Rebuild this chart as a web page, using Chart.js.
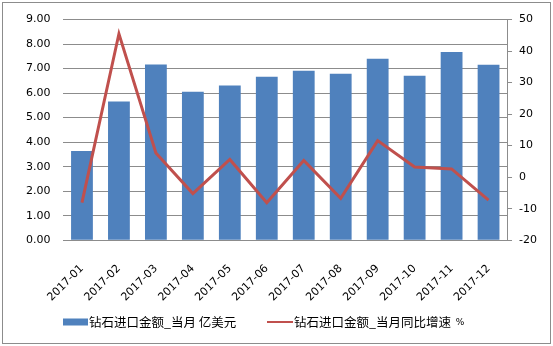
<!DOCTYPE html>
<html><head><meta charset="utf-8">
<script src="https://cdn.jsdelivr.net/npm/chart.js@4/dist/chart.umd.min.js"></script>
<style>html,body{margin:0;padding:0;background:#fff}#wrap{width:553px;height:346px;position:relative}</style>
</head><body><div id="wrap"><canvas id="c" width="553" height="346"></canvas></div>
<script>
const categories = ["2017-01","2017-02","2017-03","2017-04","2017-05","2017-06","2017-07","2017-08","2017-09","2017-10","2017-11","2017-12"];
const importValue = [3.64,5.66,7.17,6.06,6.31,6.67,6.91,6.79,7.40,6.71,7.68,7.16];
const yoyGrowth = [-8.1,45.5,7.7,-5.2,5.6,-8.1,5.3,-6.7,11.6,3.2,2.6,-7.3];
const seriesNames = ["钻石进口金额_当月 亿美元","钻石进口金额_当月同比增速 "];
const unitSuffix = "%";

const framePlugin = {
  id:'frame',
  beforeDraw(chart){
    const ctx=chart.ctx;
    ctx.save();
    ctx.fillStyle='#fff';ctx.fillRect(0,0,chart.width,chart.height);
    ctx.strokeStyle='#8c8c8c';ctx.lineWidth=1;
    ctx.strokeRect(2.5,2.5,chart.width-5,chart.height-5);
    ctx.restore();
  },
  afterDraw(chart){
    const ctx=chart.ctx;
    const ds=chart.data.datasets;
    const bar=ds.find(d=>d.type==='bar'), line=ds.find(d=>d.type==='line');
    const y=322;
    ctx.save();
    ctx.font="12.5px 'Noto Sans CJK SC', sans-serif";
    ctx.textBaseline='middle';ctx.fillStyle='#000';
    ctx.fillStyle=bar.backgroundColor;ctx.fillRect(63,y-3.5,25,7);
    ctx.fillStyle='#000';ctx.fillText(bar.label,89,y);
    ctx.strokeStyle=line.borderColor;ctx.lineWidth=2;
    ctx.beginPath();ctx.moveTo(267,y);ctx.lineTo(293,y);ctx.stroke();
    ctx.fillText(line.label,294,y);
    const w=ctx.measureText(line.label).width;
    ctx.font="9px 'DejaVu Sans', sans-serif";
    ctx.fillText(unitSuffix,294+w+2,y+1);
    ctx.restore();
  }
};

const tickFont={family:"'DejaVu Sans', Verdana, sans-serif", size:11};
new Chart(document.getElementById('c'),{
  data:{
    labels:categories,
    datasets:[
      {type:'line',label:seriesNames[1],data:yoyGrowth,yAxisID:'y1',borderColor:'#C0504D',backgroundColor:'#C0504D',borderWidth:3,pointRadius:0,tension:0,order:0},
      {type:'bar',label:seriesNames[0],data:importValue,yAxisID:'y',backgroundColor:'#4F81BD',borderWidth:0,barPercentage:0.59,categoryPercentage:1,order:1}
    ]
  },
  options:{
    responsive:false,animation:false,
    layout:{padding:{left:13,right:9,top:2,bottom:20}},
    plugins:{legend:{display:false},tooltip:{enabled:false}},
    scales:{
      x:{grid:{display:false,drawTicks:false},border:{display:true,color:'#8c8c8c'},
        ticks:{maxRotation:45,minRotation:45,color:'#000',font:tickFont,padding:22}},
      y:{position:'left',min:0,max:9,
        ticks:{stepSize:1,color:'#000',font:tickFont,padding:13,callback:v=>v.toFixed(2)},
        grid:{color:'#8c8c8c',drawTicks:false},border:{display:false}},
      y1:{position:'right',min:-20,max:50,
        ticks:{stepSize:10,color:'#000',font:tickFont,padding:7},
        grid:{drawOnChartArea:false,tickLength:5,color:'#8c8c8c'},border:{display:true,color:'#8c8c8c'}}
    }
  },
  plugins:[framePlugin]
});
</script></body></html>
